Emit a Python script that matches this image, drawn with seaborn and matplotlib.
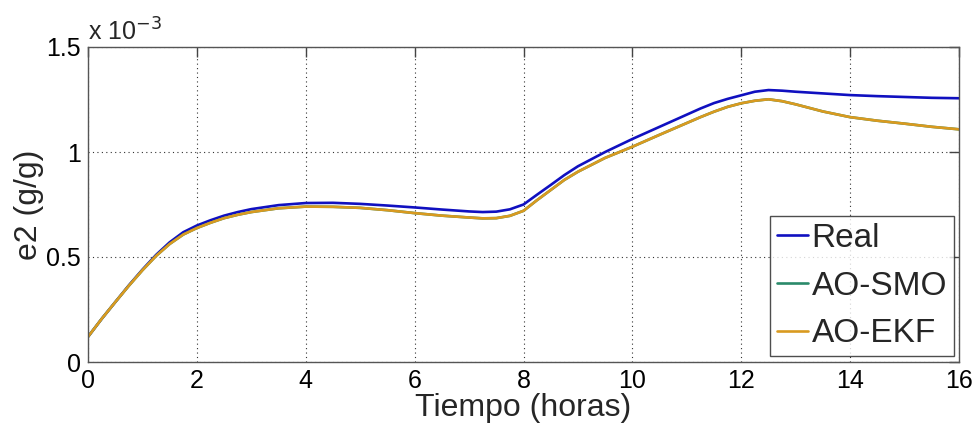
import numpy as np
import pandas as pd
import matplotlib
matplotlib.use("Agg")
import matplotlib.pyplot as plt
from matplotlib.lines import Line2D
import seaborn as sns

# Time (hours)
tiempo = [0, 0.25, 0.5, 0.75, 1, 1.25, 1.5, 1.75, 2, 2.25, 2.5, 2.75, 3, 3.5, 4, 4.5, 5, 5.5,
          6, 6.5, 7, 7.25, 7.5, 7.75, 8, 8.25, 8.5, 8.75, 9, 9.5, 10, 10.5, 11, 11.25, 11.5,
          11.75, 12, 12.25, 12.5, 12.75, 13, 13.5, 14, 14.5, 15, 15.5, 16]

# e2 values in units of 1e-3 g/g
real = [0.120, 0.205, 0.285, 0.365, 0.440, 0.510, 0.570, 0.618, 0.650, 0.675, 0.697, 0.714,
        0.728, 0.747, 0.757, 0.758, 0.753, 0.745, 0.736, 0.726, 0.717, 0.714, 0.716, 0.727,
        0.750, 0.797, 0.843, 0.890, 0.932, 1.000, 1.062, 1.120, 1.178, 1.207, 1.233, 1.253,
        1.270, 1.287, 1.295, 1.292, 1.287, 1.279, 1.271, 1.266, 1.262, 1.258, 1.256]
ao_smo = [0.120, 0.205, 0.285, 0.363, 0.437, 0.505, 0.562, 0.607, 0.638, 0.663, 0.685, 0.701,
          0.714, 0.732, 0.740, 0.739, 0.734, 0.723, 0.709, 0.697, 0.688, 0.684, 0.685, 0.696,
          0.720, 0.771, 0.819, 0.867, 0.906, 0.972, 1.025, 1.082, 1.138, 1.166, 1.192, 1.215,
          1.232, 1.244, 1.251, 1.242, 1.227, 1.193, 1.166, 1.149, 1.135, 1.120, 1.108]
ao_ekf = [0.120, 0.205, 0.285, 0.363, 0.437, 0.505, 0.562, 0.607, 0.638, 0.663, 0.685, 0.701,
          0.714, 0.732, 0.740, 0.739, 0.734, 0.723, 0.709, 0.697, 0.688, 0.684, 0.685, 0.696,
          0.720, 0.771, 0.819, 0.867, 0.906, 0.972, 1.025, 1.082, 1.138, 1.166, 1.192, 1.215,
          1.232, 1.244, 1.251, 1.242, 1.227, 1.193, 1.166, 1.149, 1.135, 1.120, 1.108]

series_names = ["Real", "AO-SMO", "AO-EKF"]
series_colors = ["#1010c0", "#2a8a6a", "#d99a20"]

x_ticks = [0, 2, 4, 6, 8, 10, 12, 14, 16]
y_ticks = [0, 0.5, 1, 1.5]

df = pd.concat([
    pd.DataFrame({"t": tiempo, "e2": vals, "serie": name})
    for name, vals in zip(series_names, [real, ao_smo, ao_ekf])
], ignore_index=True)

sns.set_style("white")
plt.rcParams["font.family"] = ["Liberation Sans", "DejaVu Sans"]

fig = plt.figure(figsize=(9.8, 4.42), dpi=100)
ax = fig.add_axes([88 / 980, 1 - 362 / 442, (959 - 88) / 980, (362 - 47) / 442])

sns.lineplot(data=df, x="t", y="e2", hue="serie", hue_order=series_names,
             palette=series_colors, linewidth=1.9, ax=ax, legend=False, sort=False)

ax.set_xlim(0, 16)
ax.set_ylim(0, 1.5)
ax.set_xticks(x_ticks)
ax.set_yticks(y_ticks)
ax.set_xticklabels([f"{v:g}" for v in x_ticks])
ax.set_yticklabels([f"{v:g}" for v in y_ticks])
ax.grid(True, linestyle=(0, (1, 3)), color="#333333", linewidth=0.8)
ax.tick_params(direction="in", length=7, width=1, colors="#444444", labelcolor="black",
               labelsize=18, top=True, right=True, pad=5)
for s in ax.spines.values():
    s.set_color("#555555")
    s.set_linewidth(1.0)

ax.set_xlabel("Tiempo (horas)", fontsize=23, labelpad=0)
ax.set_ylabel("e2 (g/g)", fontsize=23, labelpad=2)

ax.text(0.0, 1.005, "x 10$^{-3}$", transform=ax.transAxes, fontsize=18,
        ha="left", va="bottom")

handles = [Line2D([], [], color=c, linewidth=1.9) for c in series_colors]
leg = ax.legend(handles, series_names, loc="lower right", fontsize=24, frameon=True,
                fancybox=False, handlelength=0.95, handletextpad=0.1, borderpad=0.2,
                labelspacing=0.5, borderaxespad=0.0, bbox_to_anchor=(0.994, 0.019))
leg.get_frame().set_edgecolor("#222222")
leg.get_frame().set_linewidth(1.0)

fig.savefig("out.png", dpi=100)
